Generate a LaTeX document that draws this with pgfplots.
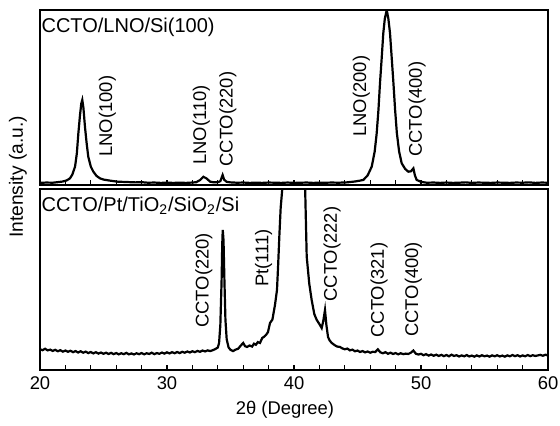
\documentclass[border=0pt]{standalone}
\usepackage{fontspec}
\setmainfont{Liberation Sans}
\usepackage{pgfplots}
\pgfplotsset{compat=1.18}

% top pattern: CCTO/LNO/Si(100)
\pgfplotstableread{
x y
20.0 1.2
20.5 1.4
21.0 1.3
21.5 1.7
21.8 2.0
22.1 2.6
22.36 3.8
22.55 6.0
22.76 10.5
22.9 18
23.02 29.5
23.15 40
23.25 46.5
23.33 48.6
23.42 44
23.54 33.3
23.67 24
23.8 16.2
24.0 10.5
24.2 7.6
24.45 5.2
24.72 3.8
25.0 3.1
25.5 2.5
26.1 1.9
26.8 1.7
27.5 1.5
28.0 1.6
28.5 1.3
29.0 1.4
29.5 1.2
30.0 1.3
30.5 1.2
31.0 1.3
31.5 1.2
32.0 1.4
32.3 1.6
32.6 2.8
32.86 4.7
33.1 3.8
33.4 1.9
33.7 1.5
34.0 1.6
34.2 2.2
34.38 5.7
34.5 3.0
34.7 1.8
35.0 1.5
35.5 1.3
36.0 1.4
36.5 1.2
37.0 1.3
37.5 1.2
38.0 1.4
38.5 1.3
39.0 1.2
39.5 1.4
40.0 1.2
40.5 1.3
41.0 1.4
41.5 1.2
42.0 1.3
42.5 1.3
43.0 1.4
43.5 1.3
44.16 1.5
44.8 2.0
45.2 2.5
45.46 2.9
45.8 5.5
46.12 10.5
46.35 19
46.51 29.5
46.65 43
46.77 58.1
46.9 72
47.03 86.7
47.15 95
47.3 100
47.43 95
47.56 86.7
47.7 72
47.83 58.1
47.96 43
48.1 29.5
48.28 19
48.48 12.4
48.75 9.2
49.0 7.6
49.2 7.8
49.4 9.5
49.52 5.5
49.66 2.9
50.0 1.8
50.45 1.3
51.0 1.4
51.5 1.2
52.0 1.4
52.5 1.2
53.0 1.3
53.5 1.5
54.0 1.2
54.5 1.4
55.0 1.3
55.5 1.2
56.0 1.4
56.5 1.3
57.0 1.2
57.5 1.4
58.0 1.3
58.5 1.5
59.0 1.2
59.5 1.4
60.0 1.3
}\lnotable

% bottom pattern: CCTO/Pt/TiO2/SiO2/Si
\pgfplotstableread{
x y
20.0 11.5
20.2 11.0
20.4 11.8
20.6 10.9
20.8 11.3
21.0 10.6
21.2 11.2
21.4 10.4
21.6 11.0
21.8 10.2
22.0 10.8
22.2 10.1
22.4 10.7
22.6 9.9
22.8 10.5
23.0 9.7
23.2 10.4
23.4 9.6
23.6 10.2
23.8 9.4
24.0 10.0
24.2 9.2
24.4 9.9
24.6 9.1
24.8 9.7
25.0 9.0
25.2 9.6
25.4 8.9
25.6 9.5
25.8 8.8
26.0 9.4
26.2 8.7
26.4 9.3
26.6 8.8
26.8 9.5
27.0 8.7
27.2 9.2
27.4 8.6
27.6 9.3
27.8 8.8
28.0 9.4
28.2 8.7
28.4 9.3
28.6 8.9
28.8 9.6
29.0 8.8
29.2 9.4
29.4 9.0
29.6 9.7
29.8 9.1
30.0 9.8
30.2 9.2
30.4 9.9
30.6 9.3
30.8 10.0
31.0 9.4
31.2 10.1
31.4 9.6
31.6 10.3
31.8 9.7
32.0 10.4
32.2 9.9
32.4 10.6
32.6 10.1
32.8 10.8
33.0 10.3
33.2 10.9
33.4 10.5
33.6 11.0
33.8 11.6
34.0 12.5
34.1 15
34.2 25
34.3 50
34.35 70
34.39 77.8
34.45 72
34.52 50
34.6 28
34.7 17
34.85 12.5
35.0 11.2
35.2 10.5
35.4 11.3
35.6 11.8
35.8 13.5
36.0 15.0
36.15 13.2
36.3 12.8
36.5 13.6
36.7 13.0
36.85 14.6
37.0 14.0
37.15 15.5
37.32 15.0
37.5 17.8
37.65 18.5
37.8 19.5
37.95 21.0
38.11 26.1
38.3 28
38.5 36
38.66 44.4
38.75 58
38.85 75
38.95 90
39.13 105
40.0 400
40.87 103
41.0 63
41.2 48
41.39 38.9
41.6 31
41.79 27.8
42.0 25.5
42.18 23.3
42.3 27
42.44 33.3
42.55 25
42.68 18.3
42.8 16.5
42.97 15.0
43.2 13.8
43.4 13.0
43.62 12.8
43.8 12.0
44.0 11.5
44.2 11.9
44.4 10.9
44.6 11.3
44.8 10.4
45.0 10.8
45.2 10.0
45.4 10.5
45.6 9.8
45.8 10.3
46.0 9.6
46.2 10.1
46.4 10.0
46.6 11.5
46.8 9.8
47.0 9.3
47.2 9.9
47.4 9.0
47.6 9.6
47.8 8.9
48.0 9.4
48.2 8.7
48.4 9.3
48.6 8.8
48.8 9.1
49.0 8.9
49.2 9.6
49.4 10.8
49.6 9.0
49.8 8.6
50.0 9.0
50.2 8.2
50.4 8.8
50.6 8.0
50.8 8.6
51.0 7.9
51.2 8.5
51.4 7.8
51.6 8.4
51.8 7.7
52.0 8.3
52.2 7.6
52.4 8.5
52.6 7.8
52.8 8.2
53.0 7.5
53.2 8.1
53.4 7.6
53.6 8.3
53.8 7.5
54.0 8.0
54.2 7.4
54.4 8.1
54.6 7.5
54.8 8.2
55.0 7.6
55.2 8.0
55.4 7.4
55.6 8.1
55.8 7.6
56.0 8.2
56.2 7.5
56.4 8.0
56.6 7.4
56.8 8.1
57.0 7.6
57.2 8.3
57.4 7.7
57.6 8.2
57.8 7.5
58.0 8.1
58.2 7.6
58.4 8.3
58.6 7.7
58.8 8.2
59.0 7.8
59.4 8.4
59.6 7.9
59.8 8.5
60.0 8.0
}\pttable

\pgfplotsset{
  xrd/.style={
    scale only axis,
    width=254pt,
    xmin=20, xmax=60,
    ymin=0,
    xtick={20,30,...,60},
    minor x tick num=4,
    ytick=\empty,
    xtick pos=bottom,
    tick align=inside,
    major tick length=2.6pt,
    minor tick length=2.6pt,
    axis line style={line width=0.8pt},
    every tick/.style={line width=0.6pt, black},
    tick label style={font=\fontsize{9.2}{10}\selectfont},
    /pgf/number format/assume math mode=true,
  },
}
\tikzset{
  peak/.style={rotate=90, anchor=west, inner sep=0pt, font=\fontsize{9.2}{10}\selectfont},
  panel/.style={anchor=north west, inner sep=0pt, font=\fontsize{10}{11}\selectfont},
}

\begin{document}
\begin{tikzpicture}
\begin{axis}[xrd, at={(20pt,120.5pt)}, anchor=south west, height=87.5pt,
    ymax=100, xticklabels={}]
\addplot[black, line width=1.1pt] table {\lnotable};
\node[panel] at (rel axis cs:0,1) [xshift=0.6pt, yshift=-3.6pt] {CCTO/LNO/Si(100)};
\node[peak] at (axis cs:25.3,16) {LNO(100)};
\node[peak] at (axis cs:32.7,11.4) {LNO(110)};
\node[peak] at (axis cs:34.8,10.3) {CCTO(220)};
\node[peak] at (axis cs:45.3,27.4) {LNO(200)};
\node[peak] at (axis cs:49.7,16) {CCTO(400)};
\end{axis}

\begin{axis}[xrd, at={(20pt,28pt)}, anchor=south west, height=90.5pt,
    ymax=100.5]
\addplot[black, line width=1.1pt] table {\pttable};
\node[panel] at (rel axis cs:0,1) [xshift=0.6pt, yshift=-3.6pt] {CCTO/Pt/TiO\textsubscript{2}/SiO\textsubscript{2}/Si};
\node[peak] at (axis cs:32.9,23.3) {CCTO(220)};
\node[peak] at (axis cs:37.6,46.1) {Pt(111)};
\node[peak] at (axis cs:43.0,37.8) {CCTO(222)};
\node[peak] at (axis cs:46.7,17.8) {CCTO(321)};
\node[peak] at (axis cs:49.4,18.3) {CCTO(400)};
\end{axis}

\node[rotate=90, font=\fontsize{9.6}{10}\selectfont] at (9pt,124.5pt) {Intensity (a.u.)};
\node[font=\fontsize{9.2}{10}\selectfont] at (142.5pt,8pt) {2θ (Degree)};

\pgfresetboundingbox
\useasboundingbox (0,0) rectangle (280pt,213pt);
\end{tikzpicture}
\end{document}
